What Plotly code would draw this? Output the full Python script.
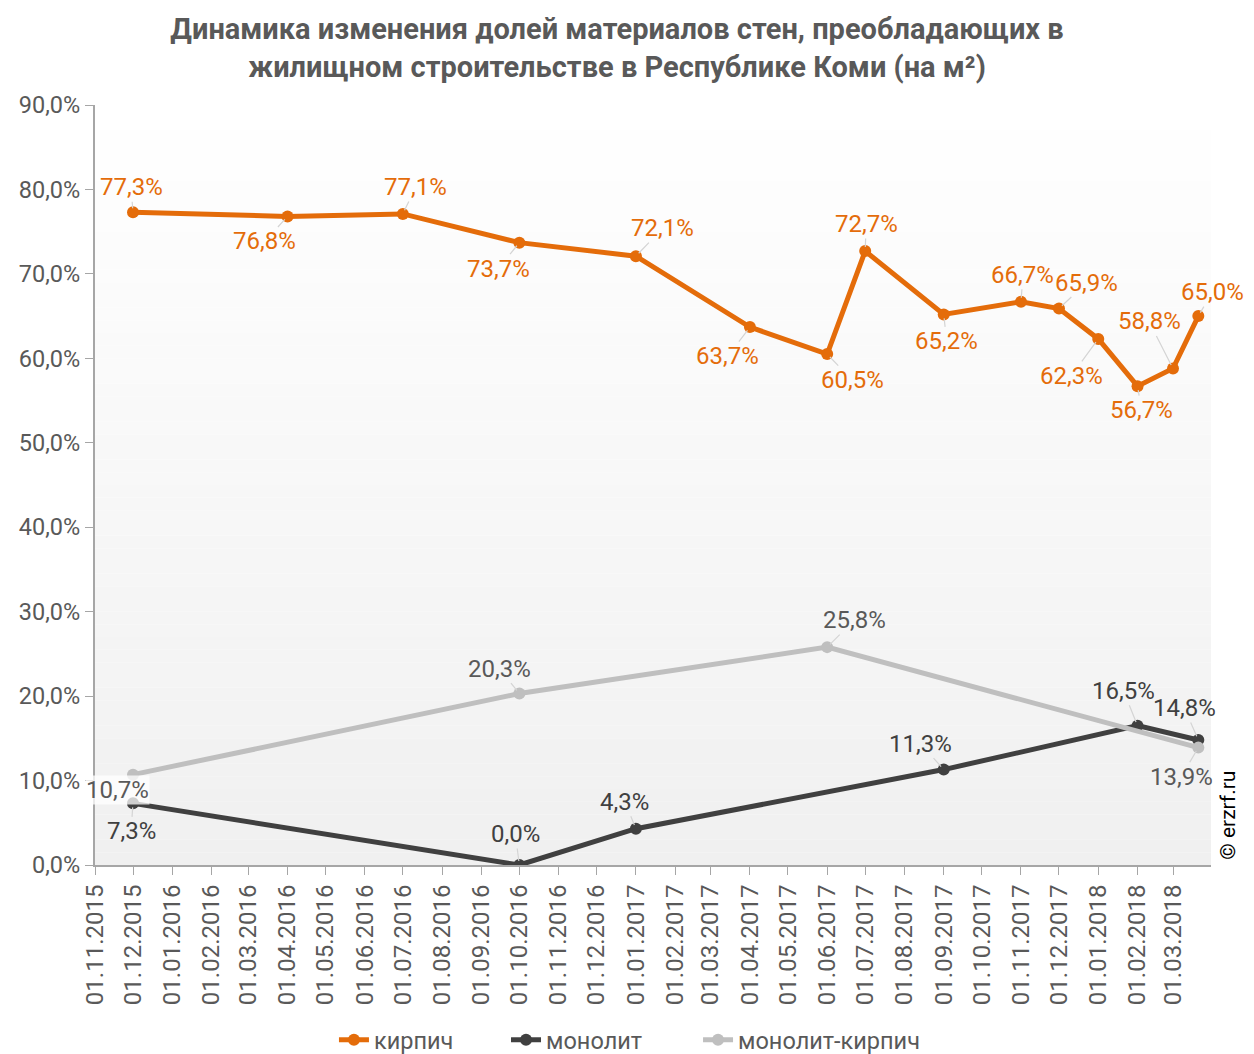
import plotly.graph_objects as go

# ---------------- DATA ----------------
kirpich_dates = ["2015-12-01", "2016-04-01", "2016-07-01", "2016-10-01", "2017-01-01",
                 "2017-04-01", "2017-06-01", "2017-07-01", "2017-09-01", "2017-11-01",
                 "2017-12-01", "2018-01-01", "2018-02-01", "2018-03-01", "2018-03-21"]
kirpich_values = [77.3, 76.8, 77.1, 73.7, 72.1, 63.7, 60.5, 72.7, 65.2, 66.7,
                  65.9, 62.3, 56.7, 58.8, 65.0]

monolit_dates = ["2015-12-01", "2016-10-01", "2017-01-01", "2017-09-01", "2018-02-01", "2018-03-21"]
monolit_values = [7.3, 0.0, 4.3, 11.3, 16.5, 14.8]

mk_dates = ["2015-12-01", "2016-10-01", "2017-06-01", "2018-03-21"]
mk_values = [10.7, 20.3, 25.8, 13.9]

tick_dates = ["2015-11-01", "2015-12-01", "2016-01-01", "2016-02-01", "2016-03-01", "2016-04-01",
              "2016-05-01", "2016-06-01", "2016-07-01", "2016-08-01", "2016-09-01", "2016-10-01",
              "2016-11-01", "2016-12-01", "2017-01-01", "2017-02-01", "2017-03-01", "2017-04-01",
              "2017-05-01", "2017-06-01", "2017-07-01", "2017-08-01", "2017-09-01", "2017-10-01",
              "2017-11-01", "2017-12-01", "2018-01-01", "2018-02-01", "2018-03-01"]
tick_labels = [d[8:10] + "." + d[5:7] + "." + d[0:4] for d in tick_dates]

series_names = ["кирпич", "монолит", "монолит-кирпич"]

# ---------------- STYLE ----------------
FONT = "Roboto"
C_K = "#E46C0A"
C_M = "#404040"
C_MK = "#BFBFBF"
LBL_MK = "#595959"
LEADER = "#D4D4D4"
LBL_SIZE = 24

# label offsets (pixels) from each point
off_k = [(-2, -25), (-23, 25), (13, -27), (-21, 26), (27, -28), (-22, 29), (25, 26), (1, -27),
         (3, 27), (2, -27), (28, -26), (-27, 37), (4, 24), (-24, -47), (14, -24)]
off_m = [(-2, 28), (-4, -31), (-11, -27), (-23, -26), (-14, -35), (-14, -32)]
off_mk = [(-16, 15), (-20, -25), (27, -27), (-17, 29)]

fig = go.Figure()

# gradient background strips
N = 60
for i in range(N):
    t = (i + 0.5) / N  # 0 bottom -> 1 top
    v = int(round(240 + 15 * t))
    fig.add_shape(type="rect", xref="x domain", yref="y domain",
                  x0=0, x1=1, y0=i / N, y1=(i + 1) / N,
                  fillcolor=f"rgb({v},{v},{v})", line=dict(width=0), layer="below")

legend_ids = ["legend", "legend2", "legend3"]
for name, xs, ys, col, lg in [(series_names[0], kirpich_dates, kirpich_values, C_K, legend_ids[0]),
                              (series_names[1], monolit_dates, monolit_values, C_M, legend_ids[1]),
                              (series_names[2], mk_dates, mk_values, C_MK, legend_ids[2])]:
    fig.add_trace(go.Scatter(x=xs, y=ys, name=name, mode="lines+markers",
                             line=dict(color=col, width=5),
                             marker=dict(color=col, size=12), legend=lg))

def fmt(v):
    return f"{v:.1f}".replace(".", ",") + "%"

def add_labels(xs, ys, offs, color, first_bg=None):
    for i, (x, y, (ax, ay)) in enumerate(zip(xs, ys, offs)):
        fig.add_annotation(x=x, y=y, text=fmt(y), showarrow=True, ax=ax, ay=ay,
                           arrowhead=0, arrowwidth=1.2, arrowcolor=LEADER, standoff=4,
                           font=dict(family=FONT, size=LBL_SIZE, color=color),
                           bgcolor=first_bg if i == 0 else None, borderpad=0)

add_labels(kirpich_dates, kirpich_values, off_k, C_K)
add_labels(monolit_dates, monolit_values, off_m, C_M)
add_labels(mk_dates, mk_values, off_mk, LBL_MK, first_bg="rgba(255,255,255,0.75)")

# watermark
fig.add_annotation(xref="paper", yref="paper", x=1.0152, y=0.066, text="© erzrf.ru",
                   showarrow=False, textangle=-90, xanchor="center", yanchor="middle",
                   font=dict(family=FONT, size=21, color="#000000"))

def legend_at(x):
    return dict(orientation="h", x=x, xanchor="left", xref="container",
                y=0.0134, yanchor="middle", yref="container",
                bgcolor="rgba(0,0,0,0)",
                font=dict(family=FONT, size=23.5, color="#595959"))

fig.update_layout(
    width=1246, height=1046,
    margin=dict(l=87, r=43, t=97, b=189),
    paper_bgcolor="white", plot_bgcolor="white",
    separators=", ",
    title=dict(text="Динамика изменения долей материалов стен, преобладающих в<br>жилищном строительстве в Республике Коми (на м²)",
               x=0.4888, xanchor="center", xref="container",
               y=0.9699, yanchor="middle", yref="container",
               font=dict(family=FONT, size=29, color="#595959", weight="bold")),
    font=dict(family=FONT, color="#595959"),
    showlegend=True,
    legend=legend_at(0.2616),
    legend2=legend_at(0.3997),
    legend3=legend_at(0.5538),
    xaxis=dict(type="date", range=["2015-11-01", "2018-03-31"],
               tickvals=tick_dates, ticktext=tick_labels, tickangle=-90,
               ticks="outside", ticklen=8, tickcolor="#A6A6A6",
               showline=True, linecolor="#A6A6A6", linewidth=2,
               showgrid=False, zeroline=False, automargin=False,
               tickfont=dict(family=FONT, size=24, color="#595959")),
    yaxis=dict(range=[0, 90], dtick=10, tickformat=".1f", ticksuffix="%",
               ticks="outside", ticklen=8, tickcolor="#A6A6A6",
               showline=True, linecolor="#A6A6A6", linewidth=2,
               showgrid=False, zeroline=False, automargin=False,
               tickfont=dict(family=FONT, size=23.5, color="#595959")),
)

fig.write_html("out.html")
